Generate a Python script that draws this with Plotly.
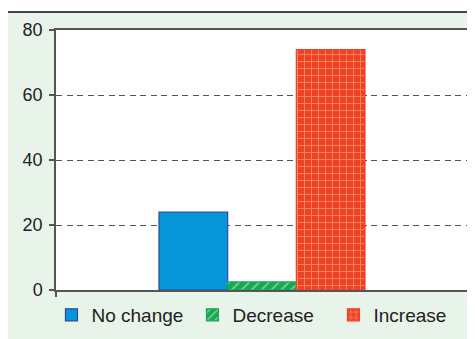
import plotly.graph_objects as go

series = ["No change", "Decrease", "Increase"]
values = [24, 2.5, 74]
group_x = [0]
y_ticks = [0, 20, 40, 60, 80]

colors = ["#0595d8", "#17a852", "#ef4129"]
line_colors = ["#2b4b9b", "#17a852", "#ef4129"]
pattern_shapes = ["", "/", "+"]
pattern_fg = ["#ffffff", "#ffffff", "#f7e48a"]

fig = go.Figure()
for name, v, c, lc, ps, fg in zip(series, values, colors, line_colors, pattern_shapes, pattern_fg):
    fig.add_trace(go.Bar(
        name=name, x=group_x, y=[v],
        marker=dict(color=c, line=dict(color=lc, width=1.2),
                    pattern=dict(shape=ps, fgcolor=fg, bgcolor=c, size=7, solidity=0.22)),
    ))

fig.update_layout(
    width=467, height=331,
    margin=dict(l=48, r=5, t=22, b=48),
    paper_bgcolor="#e8f3ea",
    plot_bgcolor="white",
    barmode="group", bargap=0.5, bargroupgap=0,
    font=dict(family="Liberation Sans, Arial, sans-serif", size=18, color="#222222"),
    showlegend=True,
    legend=dict(orientation="h", x=-0.011, xanchor="left", y=-0.023, yanchor="top",
                font=dict(size=19), itemwidth=30, bgcolor="rgba(0,0,0,0)",
                entrywidth=96, entrywidthmode="pixels"),
    xaxis=dict(range=[-0.5, 0.5], tickvals=[-0.5, 0.5], showticklabels=False,
               ticks="outside", ticklen=5, tickcolor="#555555", tickwidth=1.5,
               showgrid=False, zeroline=False, showline=True, linecolor="#555555",
               linewidth=1.5, mirror=True),
    yaxis=dict(range=[0, 80], tickvals=y_ticks, ticks="outside", ticklen=5,
               tickcolor="#555555", tickwidth=1.5, showgrid=True, gridcolor="#555555",
               griddash="6px,4.5px", gridwidth=1.3, zeroline=False, showline=True,
               linecolor="#555555", linewidth=1.5, mirror=True,
               ticklabelstandoff=3, tickfont=dict(size=18)),
    shapes=[
        dict(type="rect", xref="paper", yref="paper", x0=-0.2, x1=1.1, y0=1.069, y1=1.3,
             fillcolor="white", line=dict(width=0), layer="below"),
        dict(type="line", xref="paper", yref="paper", x0=-0.2, x1=1.1, y0=1.069, y1=1.069,
             line=dict(color="#444444", width=2)),
    ],
)

fig.write_html("out.html")
